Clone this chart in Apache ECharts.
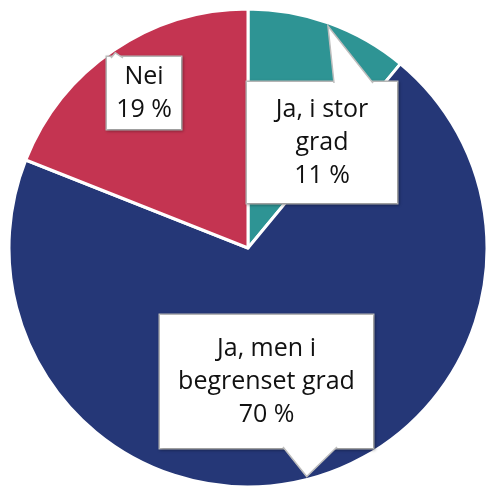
<!DOCTYPE html>
<html>
<head>
<meta charset="utf-8">
<script src="https://cdn.jsdelivr.net/npm/echarts@6/dist/echarts.min.js"></script>
<style>
  html, body { margin: 0; padding: 0; background: #fff; }
  #main { width: 488px; height: 488px; }
</style>
</head>
<body>
<div id="main"></div>
<script>
var names = ["Ja, i stor\ngrad", "Ja, men i\nbegrenset grad", "Nei"];
var values = [11, 70, 19];
var colors = ["#2e9494", "#253777", "#c43451"];

// callout boxes: left, top, width, height, vertical padding
var boxes = [
  [247, 82, 150, 122, 11],
  [160, 315, 213, 133, 17],
  [107, 57, 74, 73, 3]
];
// pointer base on the box edge: x1, x2, y
var pointerBase = [
  [334, 373, 83],
  [283, 337, 447],
  [111, 123, 58]
];

var cx = 248, cy = 248, r = 239;

var myChart = echarts.init(document.getElementById("main"));

var data = names.map(function (n, i) {
  return {
    name: n,
    value: values[i],
    itemStyle: { color: colors[i] },
    label: { width: boxes[i][2], padding: [boxes[i][4], 0] }
  };
});

// pointer tips sit on the rim at the middle of each slice
var total = values.reduce(function (a, b) { return a + b; }, 0);
var cum = 0;
var pointers = [];
values.forEach(function (v, i) {
  var mid = (cum + v / 2) / total * Math.PI * 2;
  cum += v;
  var tip = [cx + (r - 3) * Math.sin(mid), cy - (r - 3) * Math.cos(mid)];
  var pb = pointerBase[i];
  var p1 = [pb[0], pb[2]], p2 = [pb[1], pb[2]];
  pointers.push({
    type: "polygon", z: 10,
    shape: { points: [p1, tip, p2] },
    style: { fill: "#fff", stroke: null }
  });
  pointers.push({
    type: "polyline", z: 11,
    shape: { points: [p1, tip, p2] },
    style: { stroke: "#bdbdbd", lineWidth: 1.5, fill: null }
  });
});

myChart.setOption({
  animation: false,
  graphic: pointers,
  series: [
    {
      type: "pie",
      center: [cx, cy],
      radius: [0, r],
      startAngle: 90,
      clockwise: true,
      avoidLabelOverlap: false,
      itemStyle: { borderColor: "#fff", borderWidth: 3 },
      label: {
        show: true,
        position: "outside",
        formatter: "{b}\n{c} %",
        fontFamily: "Open Sans",
        fontSize: 25,
        lineHeight: 33,
        color: "#111",
        align: "center",
        backgroundColor: "#fff",
        borderColor: "#bdbdbd",
        borderWidth: 1.5,
        shadowColor: "rgba(0,0,0,0.25)",
        shadowBlur: 3,
        shadowOffsetX: 1,
        shadowOffsetY: 1
      },
      labelLine: { show: false },
      labelLayout: function (p) {
        var b = boxes[p.dataIndex];
        return { x: b[0] + b[2] / 2, y: b[1], align: "center", verticalAlign: "top" };
      },
      data: data
    }
  ]
});
</script>
</body>
</html>
